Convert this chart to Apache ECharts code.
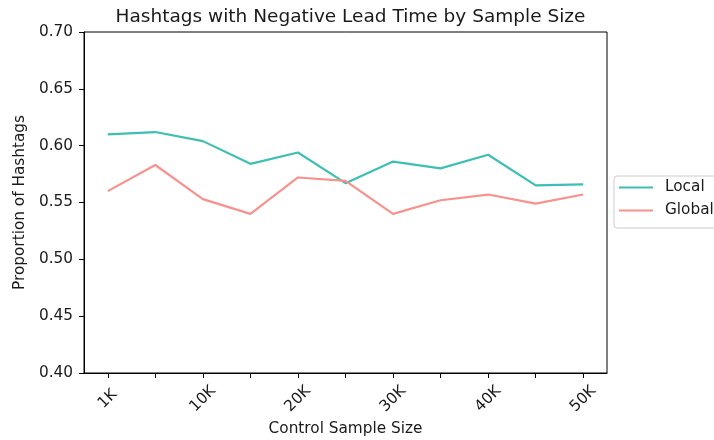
<!DOCTYPE html>
<html>
<head>
<meta charset="utf-8">
<script src="https://cdn.jsdelivr.net/npm/echarts@6/dist/echarts.min.js"></script>
<style>
  html, body { margin: 0; padding: 0; background: #fff; }
  #chart { width: 714px; height: 440px; }
</style>
</head>
<body>
<div id="chart"></div>
<script>
// Control sample sizes (every other one is labelled on the axis)
const sampleSizes = ['1K', '5K', '10K', '15K', '20K', '25K', '30K', '35K', '40K', '45K', '50K'];
// Share of hashtags with negative lead time
const localValues  = [0.610, 0.612, 0.604, 0.584, 0.594, 0.567, 0.586, 0.580, 0.592, 0.565, 0.566];
const globalValues = [0.560, 0.583, 0.553, 0.540, 0.572, 0.569, 0.540, 0.552, 0.557, 0.549, 0.557];
const yTicks = { min: 0.40, max: 0.70, step: 0.05 };

const FONT = 'DejaVu Sans';
const TEXT = '#1a1a1a';
const LABEL_SIZE = 15.3;

const chart = echarts.init(document.getElementById('chart'), null, { renderer: 'canvas' });

chart.setOption({
  animation: false,
  backgroundColor: '#ffffff',
  textStyle: { fontFamily: FONT, color: TEXT },
  title: {
    text: 'Hashtags with Negative Lead Time by Sample Size',
    left: 345.5,
    textAlign: 'center',
    top: 3,
    textStyle: { fontFamily: FONT, fontSize: 18.5, fontWeight: 'normal', color: TEXT }
  },
  legend: {
    orient: 'vertical',
    left: 614,
    top: 176,
    padding: [4, 20, 10, 5],
    itemGap: 8,
    itemWidth: 34,
    itemHeight: 2,
    icon: 'rect',
    borderColor: '#cccccc',
    borderWidth: 1,
    borderRadius: 3,
    textStyle: { fontFamily: FONT, fontSize: LABEL_SIZE, color: TEXT, lineHeight: 15, padding: [0, 0, 0, 7] },
    data: ['Local', 'Global']
  },
  grid: {
    left: 84, right: 107, top: 32, bottom: 67,
    containLabel: false,
    outerBoundsMode: 'none',
    show: true, borderColor: '#000', borderWidth: 1, backgroundColor: 'transparent'
  },
  xAxis: {
    type: 'category',
    data: sampleSizes,
    boundaryGap: true,
    name: 'Control Sample Size',
    nameLocation: 'middle',
    nameGap: 48,
    nameTextStyle: { fontFamily: FONT, fontSize: LABEL_SIZE, color: TEXT },
    axisLine: { lineStyle: { color: '#000', width: 1 } },
    axisTick: { show: true, interval: 0, alignWithLabel: true, length: 5, lineStyle: { color: '#000' } },
    axisLabel: {
      interval: 1,
      rotate: 45,
      align: 'center',
      verticalAlign: 'middle',
      margin: 26,
      fontFamily: FONT,
      fontSize: LABEL_SIZE,
      color: TEXT
    },
    splitLine: { show: false }
  },
  yAxis: {
    type: 'value',
    min: yTicks.min,
    max: yTicks.max,
    interval: yTicks.step,
    name: 'Proportion of Hashtags',
    nameLocation: 'middle',
    nameGap: 56,
    nameTextStyle: { fontFamily: FONT, fontSize: LABEL_SIZE, color: TEXT },
    axisLine: { show: true, lineStyle: { color: '#000', width: 1 } },
    axisTick: { show: true, length: 5, lineStyle: { color: '#000' } },
    axisLabel: {
      formatter: v => v.toFixed(2),
      margin: 11,
      fontFamily: FONT,
      fontSize: LABEL_SIZE,
      color: TEXT
    },
    splitLine: { show: false }
  },
  series: [
    {
      name: 'Local',
      type: 'line',
      data: localValues,
      showSymbol: false,
      symbol: 'none',
      lineStyle: { color: '#3ebfb4', width: 2.2 },
      itemStyle: { color: '#3ebfb4' }
    },
    {
      name: 'Global',
      type: 'line',
      data: globalValues,
      showSymbol: false,
      symbol: 'none',
      lineStyle: { color: '#f7928d', width: 2.2 },
      itemStyle: { color: '#f7928d' }
    }
  ]
});
</script>
</body>
</html>
